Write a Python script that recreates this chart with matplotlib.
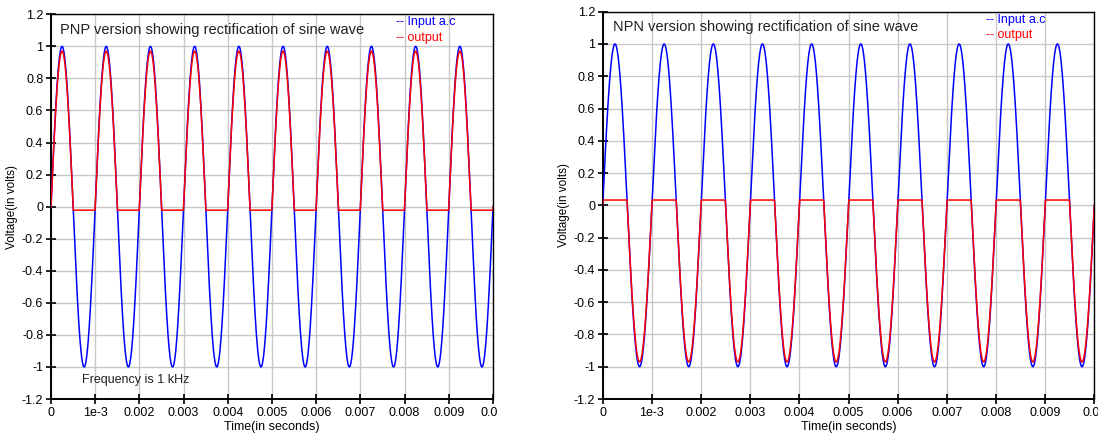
import numpy as np
import matplotlib
matplotlib.use("Agg")
import matplotlib.pyplot as plt
from matplotlib.transforms import Bbox, TransformedBbox

plt.rcParams['font.family'] = ['Liberation Sans', 'DejaVu Sans']

# ---- data ----
frequency_hz = 1000.0          # "Frequency is 1 kHz"
input_amplitude = 1.0          # input a.c peak (V)
output_gain = 0.97             # output peak relative to input
pnp_floor = -0.022             # PNP output level during negative half (V)
npn_ceiling = 0.033            # NPN output level during positive half (V)
t_end = 0.01                   # seconds

x_ticks = [0, 0.001, 0.002, 0.003, 0.004, 0.005, 0.006, 0.007, 0.008, 0.009, 0.01]
x_tick_labels = ["0", "1e-3", "0.002", "0.003", "0.004", "0.005", "0.006",
                 "0.007", "0.008", "0.009", "0.01"]
y_ticks = [1.2, 1, 0.8, 0.6, 0.4, 0.2, 0, -0.2, -0.4, -0.6, -0.8, -1, -1.2]
y_tick_labels = ["1.2", "1", "0.8", "0.6", "0.4", "0.2", "0", "-0.2", "-0.4",
                 "-0.6", "-0.8", "-1", "-1.2"]

titles = ["PNP version showing rectification of sine wave",
          "NPN version showing rectification of sine wave"]

t = np.linspace(0, t_end, 4001)
vin = input_amplitude * np.sin(2 * np.pi * frequency_hz * t)
vout_pnp = np.maximum(output_gain * vin, pnp_floor)
vout_npn = np.minimum(output_gain * vin, npn_ceiling)

W, H = 1098, 434
fig = plt.figure(figsize=(W / 100, H / 100), dpi=100)

def fx(px):
    return px / W

def fy(py):
    return 1 - py / H

axes_px = [(51, 493, 14.3, 399), (602.7, 1094.3, 11.7, 399)]
clip_right = [498, 1098]
outputs = [vout_pnp, vout_npn]

for i, (l, r, t_, b) in enumerate(axes_px):
    ax = fig.add_axes([fx(l), fy(b), fx(r - l), (b - t_) / H])
    ax.plot(t, vin, color='#0000ff', lw=1.1, zorder=3)
    ax.plot(t, outputs[i], color='#ff0000', lw=1.1, zorder=4)
    ax.set_xlim(0, t_end)
    ax.set_ylim(-1.2, 1.2)
    ax.set_xticks(x_ticks)
    ax.set_xticklabels(x_tick_labels)
    ax.set_yticks(y_ticks)
    ax.set_yticklabels(y_tick_labels)
    ax.grid(True, color='#c8c8c8', lw=1.0, zorder=0)
    ax.set_axisbelow(True)
    ax.tick_params(direction='inout', length=7, width=1.2, labelsize=9,
                   colors='black', pad=2)
    for s in ax.spines.values():
        s.set_color('black')
        s.set_linewidth(1.0)
    ax.spines['left'].set_linewidth(1.4)
    ax.spines['bottom'].set_linewidth(1.4)
    ax.set_xlabel("Time(in seconds)", fontsize=9, labelpad=2)
    ax.set_ylabel("Voltage(in volts)", fontsize=8.5, labelpad=3)
    ax.text(0.02, 0.978, titles[i], transform=ax.transAxes, fontsize=10.5,
            va='top', ha='left', color='#222222')
    ax.text(0.78, 0.995, "-- Input a.c", transform=ax.transAxes, fontsize=9,
            va='top', ha='left', color='#0000ff')
    ax.text(0.78, 0.955, "-- output", transform=ax.transAxes, fontsize=9,
            va='top', ha='left', color='#ff0000')
    if i == 0:
        ax.text(0.07, 0.035, "Frequency is 1 kHz", transform=ax.transAxes,
                fontsize=9, va='bottom', ha='left', color='#222222')
    clip = TransformedBbox(Bbox([[0, 0], [clip_right[i] / W, 1]]), fig.transFigure)
    for tick in ax.xaxis.get_major_ticks():
        tick.label1.set_clip_box(clip)
        tick.label1.set_clip_on(True)

fig.savefig("out.png", dpi=100)
